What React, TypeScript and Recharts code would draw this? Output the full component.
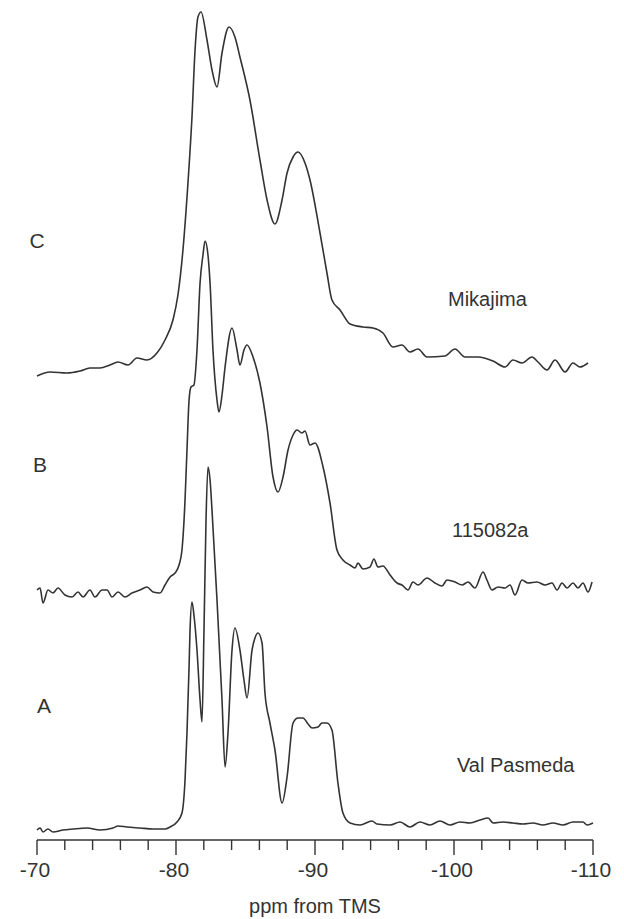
import { LineChart, Line, XAxis, YAxis, Customized } from "recharts";

// chemical shift positions (ppm) and intensities
const ppmC = [
  -70.0, -70.94, -72.16, -73.09, -73.81, -74.53, -75.25, -75.83, -76.55, -77.19, -77.91, -78.63,
  -79.21, -79.78, -80.14, -80.5, -80.86, -81.15, -81.37, -81.58, -81.8, -82.23, -82.59, -82.95,
  -83.31, -83.81, -84.24, -84.6, -85.32, -86.04, -86.55, -87.12, -87.63, -87.99, -88.42, -88.78,
  -89.28, -89.64, -90.36, -90.86, -91.22, -91.8, -92.52, -93.45, -94.17, -94.89, -95.61, -96.26,
  -96.83, -97.41, -98.06, -99.35, -100.07, -100.79, -101.73, -102.81, -103.67, -104.24, -104.89,
  -105.61, -106.04, -106.69, -107.27, -107.99, -108.56, -109.06, -109.64,
];
const intC = [
  1, 5, 4, 6, 9, 9, 12, 15, 12, 19, 17, 24,
  37, 57, 82, 127, 194, 260, 327, 360, 365, 337, 307, 290,
  324, 350, 340, 320, 277, 217, 177, 153, 177, 204, 220, 225,
  214, 197, 144, 104, 77, 67, 53, 50, 49, 44, 30, 32,
  25, 28, 20, 21, 28, 20, 20, 16, 10, 17, 14,
  20, 15, 7, 17, 5, 14, 10, 14,
];

const ppmB = [
  -70.0, -70.22, -70.43, -70.79, -71.15, -71.51, -72.01, -72.52, -72.95, -73.31, -73.81, -74.17,
  -74.68, -75.04, -75.4, -75.83, -76.33, -76.83, -77.41, -77.91, -78.35, -78.85, -79.21, -79.57,
  -79.93, -80.22, -80.43, -80.65, -80.79, -80.94, -81.08, -81.29, -81.51, -81.73, -81.94, -82.09,
  -82.3, -82.45, -82.66, -82.95, -83.09, -83.31, -83.53, -84.03, -84.39, -84.6, -84.89, -85.11,
  -85.54, -86.04, -86.55, -86.98, -87.34, -87.7, -88.06, -88.42, -88.71, -89.06, -89.28, -89.64,
  -90.0, -90.58, -91.08, -91.58, -92.01, -92.52, -92.88, -93.09, -93.45, -93.96, -94.24, -94.53,
  -94.89, -95.4, -95.9, -96.26, -96.69, -97.05, -97.41, -98.06, -98.63, -99.14, -99.5, -100.07,
  -100.58, -101.01, -101.51, -102.09, -102.37, -102.73, -103.17, -103.67, -104.03, -104.39,
  -104.89, -105.32, -105.97, -106.55, -107.05, -107.41, -107.77, -108.13, -108.56, -108.92,
  -109.28, -109.64, -109.93,
];
const intB = [
  0, 2, -13, 0, -3, 2, -5, -7, -2, -7, 0, -7,
  0, 0, -7, -2, -7, -3, 0, 3, -2, -3, 5, 13,
  17, 25, 40, 90, 140, 190, 203, 205, 240, 307, 335, 349,
  335, 307, 240, 190, 178, 195, 223, 262, 240, 225, 240, 245,
  233, 207, 163, 113, 98, 113, 140, 155, 160, 157, 159, 145,
  147, 123, 87, 40, 30, 25, 22, 27, 21, 23, 31, 23,
  24, 15, 7, 5, 0, 8, 5, 12, 7, 4, 10, 8,
  5, 8, 2, 18, 10, 0, 3, 2, 5, -5,
  10, 7, 8, 5, 7, 0, 7, 2, 7, 2,
  7, -2, 8,
];

const ppmA = [
  -70.0, -70.22, -70.43, -70.79, -71.15, -71.87, -72.59, -73.6, -74.53, -75.47, -75.83, -76.47,
  -77.41, -78.35, -79.21, -79.57, -80.07, -80.43, -80.65, -80.79, -80.94, -81.01, -81.15, -81.29,
  -81.51, -81.73, -81.87, -82.01, -82.16, -82.3, -82.45, -82.59, -82.95, -83.31, -83.53, -83.74,
  -84.03, -84.24, -84.6, -84.89, -85.11, -85.47, -85.68, -85.9, -86.19, -86.4, -86.76, -87.12,
  -87.63, -87.99, -88.42, -88.78, -89.14, -89.5, -89.78, -90.22, -90.5, -90.86, -91.22, -91.65,
  -92.01, -92.52, -93.24, -94.1, -94.46, -95.4, -96.12, -96.83, -97.55, -98.27, -98.99, -99.71,
  -100.43, -101.15, -101.87, -102.45, -102.81, -103.53, -104.24, -104.96, -105.68, -106.4,
  -107.12, -107.84, -108.56, -109.28, -109.57, -110.0,
];
const intA = [
  -2, 0, -4, -1, -4, -2, -1, 0, -2, 0, 2, 1,
  0, -1, -1, 1, 6, 15, 48, 95, 161, 198, 226, 213,
  178, 128, 106, 195, 308, 361, 348, 318, 228, 128, 61, 95,
  178, 200, 178, 148, 130, 178, 190, 195, 185, 135, 105, 78,
  25, 51, 105, 110, 110, 104, 100, 101, 105, 105, 98, 45,
  15, 5, 3, 7, 4, 3, 6, 1, 6, 3, 7, 3,
  6, 5, 8, 10, 5, 6, 5, 4, 5, 3,
  5, 3, 6, 6, 3, 5,
];

// vertical stacking of the traces
const offsetA = 12;
const offsetB = 250;
const offsetC = 463;

const tickValues = [
  -70, -72, -74, -76, -78, -80, -82, -84, -86, -88, -90,
  -92, -94, -96, -98, -100, -102, -104, -106, -108, -110,
];

const sampleLabels = [
  { letter: "C", name: "Mikajima" },
  { letter: "B", name: "115082a" },
  { letter: "A", name: "Val Pasmeda" },
];

const toRows = (ppm: number[], vals: number[], offset: number) =>
  ppm.map((p, i) => ({ ppm: p, v: vals[i] + offset }));

const dataA = toRows(ppmA, intA, offsetA);
const dataB = toRows(ppmB, intB, offsetB);
const dataC = toRows(ppmC, intC, offsetC);

const INK = "#333";
const FONT = "'Liberation Sans', Arial, Helvetica, sans-serif";

const PpmTick = ({ x, y, payload }: any) => {
  const major = payload.value % 10 === 0;
  return (
    <g>
      <line x1={x} x2={x} y1={y} y2={y + (major ? 15 : 10)} stroke={INK} strokeWidth={1.4} />
      {major && (
        <text
          x={x - 2}
          y={y + 29}
          textAnchor="middle"
          dominantBaseline="central"
          fontFamily={FONT}
          fontSize={21}
          fill={INK}
        >
          {payload.value}
        </text>
      )}
    </g>
  );
};

// letters on the left, sample names on the right
const labelRowsY = [240, 464, 705];
const nameRowsY = [299, 530, 765];
const letterX = [37, 40, 44];
const nameX = [448, 452, 457];

const Annotations = () => (
  <g fontFamily={FONT} fill={INK}>
    {sampleLabels.map((s, i) => (
      <g key={s.letter}>
        <text x={letterX[i]} y={labelRowsY[i]} textAnchor="middle" dominantBaseline="central" fontSize={21}>
          {s.letter}
        </text>
        <text x={nameX[i]} y={nameRowsY[i]} dominantBaseline="central" fontSize={20}>
          {s.name}
        </text>
      </g>
    ))}
  </g>
);

export default function App() {
  return (
    <div style={{ position: "absolute", left: 0, top: 0, background: "#fff" }}>
      <LineChart width={624} height={919} margin={{ top: 0, right: 31, bottom: 0, left: 37 }}>
        <XAxis
          type="number"
          dataKey="ppm"
          domain={[-110, -70]}
          reversed
          ticks={tickValues}
          interval={0}
          tick={<PpmTick />}
          tickLine={false}
          tickSize={0}
          tickMargin={0}
          height={79}
          axisLine={{ stroke: INK, strokeWidth: 1.5 }}
          allowDuplicatedCategory={false}
          label={{
            value: "ppm from TMS",
            position: "insideBottom",
            offset: 6,
            fill: INK,
            fontSize: 20,
            fontFamily: FONT,
          }}
        />
        <YAxis type="number" domain={[0, 840]} hide />
        <Line data={dataC} dataKey="v" type="monotone" stroke={INK} strokeWidth={1.6} dot={false} isAnimationActive={false} />
        <Line data={dataB} dataKey="v" type="monotone" stroke={INK} strokeWidth={1.6} dot={false} isAnimationActive={false} />
        <Line data={dataA} dataKey="v" type="monotone" stroke={INK} strokeWidth={1.6} dot={false} isAnimationActive={false} />
        <Customized component={Annotations} />
      </LineChart>
    </div>
  );
}
